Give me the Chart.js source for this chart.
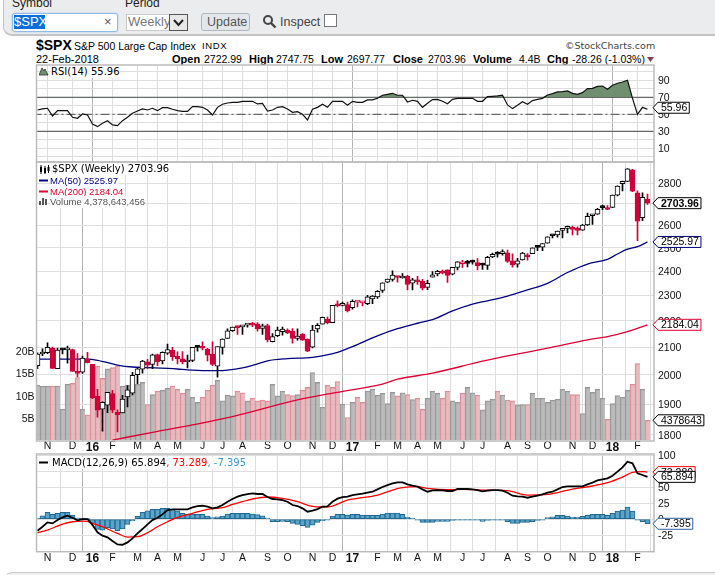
<!DOCTYPE html>
<html>
<head>
<meta charset="utf-8">
<title>$SPX</title>
<script src="https://cdn.jsdelivr.net/npm/chart.js@4"></script>
<style>
  html, body { margin: 0; padding: 0; background: #fff; overflow: hidden; }
  body { width: 715px; height: 575px; position: relative; font-family: "Liberation Sans", Arial, sans-serif; color: #000; }
  canvas { position: absolute; left: 0; }
  .t { position: absolute; white-space: nowrap; line-height: 12px; }
  .b { font-weight: bold; }
  .leg { font-family: "DejaVu Sans", sans-serif; font-size: 10px; background: #fff; }
  .ma { font-size: 9.5px; background: #fff; }
  #bar { position: absolute; left: 3px; right: -10px; top: -10px; height: 44px; background: #ebecee; border: 1px solid #c4c4c4; border-width: 0 0 2px 1px; border-radius: 0 0 0 9px; }
  #foot { position: absolute; left: 4px; right: -10px; top: 572px; height: 20px; background: #f0f0f2; border: 1px solid #c8c8c8; border-radius: 8px 0 0 0; }
  .box { position: absolute; background: #fff; box-sizing: border-box; }
</style>
</head>
<body>
<div id="bar"></div>
<div id="foot"></div>
<div class="t" style="left:12px;top:-3px;font-size:12px;color:#222">Symbol</div>
<div class="t" style="left:125px;top:-3px;font-size:12px;color:#222">Period</div>
<div class="box" style="left:12px;top:13px;width:106px;height:19px;border:1px solid #8fbbe8;border-radius:3px;box-shadow:0 0 2px #9cc4ee"></div>
<div class="t" style="left:14px;top:15px;font-size:13px;line-height:14px;background:#0a6fd6;color:#fff;width:31px">$SPX</div>
<div class="t" style="left:104px;top:15px;font-size:13px;line-height:14px;color:#555">×</div>
<div class="box" style="left:126px;top:14px;width:62px;height:17px;border:1px solid #ccc"></div>
<div class="t" style="left:128px;top:15px;font-size:13px;line-height:14px;color:#777">Weekly</div>
<div class="box" style="left:169px;top:14px;width:19px;height:17px;border:1px solid #555;background:#e8e8e8"></div>
<svg style="position:absolute;left:173px;top:19px" width="11" height="8"><path d="M1 1 L5.5 6 L10 1" fill="none" stroke="#222" stroke-width="2"/></svg>
<div class="box" style="left:201px;top:13px;width:49px;height:18px;border:1px solid #b0b6bd;border-radius:3px;background:#e2e7ec"></div>
<div class="t" style="left:207px;top:15px;font-size:12.5px;line-height:14px;color:#555">Update</div>
<svg style="position:absolute;left:262px;top:14px" width="15" height="15"><circle cx="6" cy="6" r="4" fill="none" stroke="#444" stroke-width="2"/><path d="M9 9 L13.5 13.5" stroke="#444" stroke-width="2.4"/></svg>
<div class="t" style="left:280px;top:15px;font-size:12.5px;line-height:14px;color:#444">Inspect</div>
<div class="box" style="left:324px;top:14px;width:13px;height:13px;border:1px solid #777"></div>

<div class="t b" style="left:36px;top:38px;font-size:14px;line-height:14px">$SPX</div>
<div class="t" style="left:74px;top:40px;font-size:10.5px">S&amp;P 500 Large Cap Index</div>
<div class="t" style="left:202px;top:40px;font-size:9.5px;letter-spacing:.6px">INDX</div>
<div class="t" style="left:565px;top:40px;font-family:'DejaVu Sans';font-size:9.5px;color:#444">©StockCharts.com</div>
<div class="t" style="left:36px;top:53px;font-size:11px">22-Feb-2018</div>
<div class="t b" style="left:172px;top:53px;font-size:11px">Open</div>
<div class="t" style="left:204px;top:53px;font-size:10.5px">2722.99</div>
<div class="t b" style="left:249px;top:53px;font-size:11px">High</div>
<div class="t" style="left:276px;top:53px;font-size:10.5px">2747.75</div>
<div class="t b" style="left:321px;top:53px;font-size:11px">Low</div>
<div class="t" style="left:347px;top:53px;font-size:10.5px">2697.77</div>
<div class="t b" style="left:393px;top:53px;font-size:11px">Close</div>
<div class="t" style="left:428px;top:53px;font-size:10.5px">2703.96</div>
<div class="t b" style="left:473px;top:53px;font-size:11px">Volume</div>
<div class="t" style="left:519px;top:53px;font-size:10.5px">4.4B</div>
<div class="t b" style="left:547px;top:53px;font-size:11px">Chg</div>
<div class="t" style="left:572px;top:53px;font-size:10.5px">-28.26 (-1.03%)</div>
<svg style="position:absolute;left:647px;top:57px" width="8" height="6"><path d="M0 0 H7 L3.5 5 Z" fill="#8c3b50"/></svg>

<canvas id="rsi" width="715" height="104" style="top:60px"></canvas>
<canvas id="price" width="715" height="300" style="top:160px"></canvas>
<canvas id="macd" width="715" height="118" style="top:450px"></canvas>

<svg style="position:absolute;left:39px;top:67px" width="10" height="9"><path d="M0 8 L3 1 L5 4 L6 2 L9 8 Z" fill="#6f8f6f" stroke="#333" stroke-width=".8"/></svg>
<div class="t leg" style="left:51px;top:66px">RSI(14) 55.96</div>
<svg style="position:absolute;left:39px;top:165px" width="11" height="9"><path d="M2 0 V9 M6 1 V9 M9.5 0 V8" stroke="#000"/><rect x="1" y="2" width="2" height="5"/><rect x="5" y="3" width="2" height="5"/><rect x="8.5" y="2" width="2" height="4"/></svg>
<div class="t leg" style="left:52px;top:163px">$SPX (Weekly) 2703.96</div>
<svg style="position:absolute;left:39px;top:176px" width="10" height="30"><path d="M0 4.5 H9" stroke="#00007f" stroke-width="2"/><path d="M0 15.5 H9" stroke="#dc0032" stroke-width="2"/><path d="M1 29 V25 M4 29 V22 M7 29 V23" stroke="#555" stroke-width="2"/></svg>
<div class="t ma" style="left:50px;top:175px;color:#00007f">MA(50) 2525.97</div>
<div class="t ma" style="left:50px;top:186px;color:#dc0032">MA(200) 2184.04</div>
<div class="t ma" style="left:50px;top:196px;color:#555">Volume 4,378,643,456</div>
<svg style="position:absolute;left:39px;top:460px" width="10" height="6"><path d="M0 2.5 H9" stroke="#000" stroke-width="2"/></svg>
<div class="t leg" style="left:52px;top:457px">MACD(12,26,9) 65.894<span style="color:#f00">, 73.289</span><span style="color:#3a97cf">, -7.395</span></div>

<script>
// week 0 = week of 19-Oct-2015, one candle per week up to 19-Feb-2018
const opens = [2033,2075,2080,2096,2022,2090,2090,2091,2013,2010,2057,2038,1926,1883,1897,1936,1873,1871,1924,1937,2001,2020,2047,2037,2073,2050,2078,2089,2067,2057,2046,2052,2100,2100,2092,2075,2031,2099,2132,2162,2173,2176,2183,2184,2187,2170,2181,2120,2143,2158,2164,2160,2132,2148,2129,2100,2168,2186,2206,2192,2258,2260,2263,2251,2273,2270,2267,2286,2294,2320,2354,2365,2375,2371,2378,2350,2363,2357,2332,2374,2388,2400,2405,2387,2415,2431,2434,2442,2436,2431,2424,2460,2473,2475,2478,2444,2429,2447,2470,2474,2502,2503,2521,2553,2557,2578,2587,2588,2582,2579,2603,2645,2652,2685,2680,2684,2742,2798,2809,2867,2754,2636,2722.99];
const highs = [2079,2094,2116,2100,2097,2094,2104,2093,2076,2067,2081,2038,1950,1908,1940,1947,1881,1930,1963,2009,2024,2052,2056,2075,2075,2083,2111,2099,2083,2084,2071,2099,2106,2120,2096,2120,2101,2131,2169,2175,2177,2182,2186,2194,2193,2187,2187,2151,2175,2175,2169,2170,2169,2151,2131,2182,2189,2214,2214,2260,2278,2273,2273,2282,2279,2276,2300,2299,2319,2351,2367,2401,2378,2390,2382,2370,2378,2366,2361,2398,2403,2404,2405,2416,2440,2446,2446,2447,2453,2434,2463,2477,2484,2491,2490,2474,2454,2480,2475,2500,2509,2519,2549,2555,2575,2582,2597,2597,2594,2605,2657,2652,2679,2695,2693,2743,2787,2811,2873,2870,2763,2754,2747.75];
const lows = [2022,2069,2076,2022,2022,2075,2042,2012,1993,2005,2043,1918,1857,1812,1872,1872,1810,1871,1891,1931,1970,2006,2022,2022,2033,2039,2073,2052,2039,2039,2025,2047,2085,2090,2050,2033,1992,2074,2132,2159,2147,2147,2175,2177,2160,2147,2119,2119,2139,2145,2150,2115,2126,2125,2083,2097,2156,2186,2187,2192,2254,2258,2234,2245,2254,2258,2263,2267,2288,2312,2352,2358,2354,2370,2322,2322,2344,2322,2323,2374,2380,2388,2353,2384,2405,2416,2418,2429,2405,2407,2407,2457,2459,2468,2437,2417,2417,2446,2446,2474,2488,2488,2521,2544,2547,2544,2566,2557,2557,2578,2600,2605,2651,2673,2673,2683,2738,2763,2808,2759,2532,2622,2697.77];
const closes = [2075,2079,2099,2023,2089,2090,2091,2012,2005,2060,2044,1922,1880,1906,1940,1880,1865,1917,1948,1999,2022,2049,2035,2072,2047,2081,2091,2065,2057,2046,2052,2099,2099,2096,2071,2037,2102,2130,2161,2175,2173,2182,2184,2183,2169,2180,2128,2139,2164,2168,2153,2132,2141,2126,2085,2164,2182,2213,2192,2260,2258,2263,2238,2276,2274,2271,2294,2297,2316,2351,2367,2383,2373,2378,2344,2363,2355,2329,2349,2384,2399,2391,2382,2416,2439,2432,2433,2438,2423,2425,2459,2472,2472,2476,2441,2426,2444,2477,2461,2500,2502,2519,2549,2553,2575,2581,2588,2582,2578,2602,2642,2652,2675,2683,2674,2743,2786,2810,2872,2762,2620,2732,2703.96];
// volume in billions
const volume = [12.2,12,12,12,12,6.9,12.4,12.6,13.9,6.9,5.6,16.4,16.4,13.7,15.8,16.1,16.5,12,12.2,13.7,12.4,12.8,7.9,10.1,10.9,11.1,11.5,12,11.3,10.4,11.3,9.5,8.4,9.5,11.1,12.2,13.3,8.7,10,9.8,10.9,10.5,8.7,9.3,8.7,8.9,8.7,12.4,9.8,10.9,10.1,9.9,10.1,11.1,11.7,15,12.8,7.3,12.2,11.7,13,8,5,8.4,9.5,8.4,10.9,11.3,10,10.4,8.1,10.6,9.8,10.5,10.1,9,9.3,6.8,9.3,10.9,10.4,9.3,10.9,8.7,8.4,10.4,11.7,10.5,10,6.7,8.7,9.1,10.9,10,8.9,8.7,7.8,7.9,7.9,10.4,9.3,9.3,8.4,8.9,9.1,11.3,10.9,10.1,10.1,5.9,11.7,10.6,11.3,9.3,4.6,8.1,9.9,9.5,11.1,12.4,17,11.3,4.38];
const pinkVolumeWeeks = [3,7,8,10,11,12,13,15,16,22,24,27,28,29,33,34,35,40,41,43,44,45,46,50,51,53,54,58,59,60,62,64,65,72,74,76,77,81,82,85,88,92,94,95,98,107,108,114,119,120,122];

const ma50Weeks = [0,10,12,16,19,22,28,30,36,38,41,44,46,50,55,60,63,68,72,76,79,83,87,90,94,98,102,106,110,114,116,118,120,122];
const ma50 = [2056,2056,2052,2035,2028,2026,2021,2018,2015,2017,2025,2039,2050,2058,2063,2081,2102,2142,2169,2190,2204,2238,2265,2278,2297,2322,2349,2394,2430,2450,2473,2494,2505,2525.97];
const ma200Weeks = [15,23,31,39,52,60,69,72,79,89,94,102,110,114,118,122];
const ma200 = [1784,1808,1832,1859,1914,1940,1968,1985,2006,2049,2068,2096,2127,2139,2158,2184.04];

const rsi = [55.1,56.3,57.1,48,54.3,54.3,54.3,46.5,45.3,50.4,49.2,38.6,35.5,39.4,42.5,37.5,36.7,42.5,46.5,51.2,53.9,56.3,55.1,57.1,54.3,57.8,57.8,55.9,54.3,53.5,53.5,59,59,58.2,55.1,49.2,58.2,61.8,63.3,64.1,64.1,65.3,65.3,65.3,62.2,62.9,53.9,55.1,58.2,59,56.3,52.4,53.1,50,43.3,55.9,58.2,61.8,58.2,65.3,65.3,65.3,60.6,65.3,64.1,64.1,66.9,66.9,68.8,72.4,73.5,74.7,72.4,72.4,64.5,66.5,65.3,58.2,62.9,67.3,67.6,65.3,62.5,67.6,68.8,68.8,68.8,68.8,65.3,65.3,70.8,71.2,71.6,72.4,61,56.7,60.6,64.9,61.8,66.1,67.6,68.8,72.7,74.3,76.3,76.7,77.5,74.7,73.5,75.5,80.2,80.6,82.9,83.3,79.4,84.1,86.5,88,90,68.8,50,58.2,55.96];
const rsiLevels = [70,30];

const macd = [-18.2,-12,-5.2,-6.8,-1.6,2.6,5.2,2.1,-2.1,0,0,-9.4,-20.8,-26,-28.6,-34.4,-39.6,-40.1,-36.5,-30.2,-22.4,-15.6,-8.3,-1.6,2.1,7.3,14.1,15.1,15.1,15.1,15.1,18.2,20.3,20.8,19.3,16.7,18.2,21.9,27.1,31.3,34.9,37.5,39.1,40.1,39.1,39.1,34.4,31.3,30.7,29.7,27.1,21.9,20.3,16.7,11.5,13,15.6,19.3,19.8,27.1,31.8,34.4,34.9,37.5,38.5,39.6,41.1,42.7,46.4,50,53.1,55.7,57.3,57.3,54.2,52.1,50.5,46.4,42.7,44.8,45.3,44.8,43.8,43.8,46.9,46.9,46.9,46.4,45.3,43.2,44.3,45.3,45.3,44.3,41.1,36.5,35.4,34.9,33.3,34.9,36.5,38.5,41.1,42.7,46.4,50,51,51,51,51,54.2,56.8,60.4,62,63.5,67.7,74,80.7,89.6,87,71.4,68.8,65.894];
const signalWeeks = [0,2,4,5,7,9,10,11,13,16,18,20,22,24,26,28,31,34,37,39,41,43,46,49,52,55,57,59,62,64,68,71,73,76,78,82,85,89,94,98,102,107,111,114,117,119,121,122];
const signal = [-21.4,-17.2,-10.9,-7.8,-4.2,-3.1,-3.6,-6.8,-12,-22.4,-28.1,-27.6,-21.4,-12,-4.2,2.6,8.9,15.1,17.7,22.9,27.1,31.3,34.4,32.3,27.1,19.8,18.8,20.3,29.7,32.3,37.5,45.3,49,50.5,47.9,45.8,46.4,45.3,44.3,37.5,38.5,46.9,51.6,56.8,65.6,72.9,74,73.289];
const histogram = [1,5.2,10.4,7.3,8.9,10.4,10.4,6.3,1,.5,0,-6.8,-16.1,-17.2,-13.5,-15.6,-18.2,-15.6,-8.3,-3.1,4.2,10.4,13,15.1,15.1,16.7,16.7,15.1,13,8.9,7.8,7.8,7.3,7.3,4.7,2.1,3.6,4.7,7.8,8.9,8.9,8.9,8.9,7.8,6.8,5.2,1,-4.2,-4.2,-3.6,-4.2,-6.8,-8.3,-10.4,-13,-9.4,-5.2,-2.6,-1,4.7,7.3,7.3,6.3,7.3,7.3,6.3,5.7,5.7,5.7,7.8,9.4,9.4,9.4,7.3,3.1,1,-1,-5.2,-5.2,-5.2,-3.6,-3.6,-3.6,-2.1,-.5,-.5,-.5,-.5,-1.6,-3.6,-2.1,-.5,-.5,-.5,-4.2,-6.8,-6.8,-5.2,-5.2,-4.2,-2.1,-.5,2.1,3.6,5.7,5.7,4.7,3.1,3.1,4.2,5.7,7.3,7.3,7.3,5.7,8.9,12.5,14.1,18.8,12.5,-1.6,-4.2,-7.395];

const monthWeeks = [2,7,11,15,20,24,28,33,37,41,46,50,55,59,63,68,72,76,80,85,89,94,98,102,107,111,115,120];
const monthLabels = ['N','D','16','F','M','A','M','J','J','A','S','O','N','D','17','F','M','A','M','J','J','A','S','O','N','D','18','F'];

const priceTicks = [1800,1900,2000,2100,2200,2300,2400,2500,2600,2700,2800];
const volumeTicks = [5,10,15,20];
const rsiTicks = [0,10,20,30,40,50,60,70,80,90,100];
const rsiLabels = [10,30,50,70,90];
const macdTicks = [-25,0,25,50,75,100];

const GRID = '#dedede';
const YEAR_GRID = '#b4b4b4';
const TICK_FONT = { family: 'Liberation Sans', size: 10.5 };

const xyPoints = (xs, ys) => ys.map((y, i) => ({ x: xs[i], y }));
const weekly = ys => ys.map((y, i) => ({ x: i, y }));
const isYear = v => monthLabels[monthWeeks.indexOf(v)].length === 2;

// fixes the size of an axis and stops it pushing the plot area around
function fixSize(s, width, height) {
  if (width !== undefined) s.width = width;
  if (height !== undefined) s.height = height;
  s.paddingTop = s.paddingBottom = s.paddingLeft = s.paddingRight = 0;
}

function xAxis(labelHeight, labelPadding) {
  return {
    type: 'linear',
    min: -0.2,
    max: 123.3,
    offset: false,
    afterBuildTicks: s => { s.ticks = monthWeeks.map(value => ({ value })); },
    afterFit: s => fixSize(s, undefined, labelHeight),
    border: { display: false },
    grid: {
      drawTicks: false,
      color: c => (c.tick && isYear(c.tick.value) ? YEAR_GRID : GRID),
    },
    ticks: {
      display: labelHeight > 0,
      autoSkip: false,
      maxRotation: 0,
      padding: labelPadding,
      color: '#111',
      font: c => (c.tick && isYear(c.tick.value)
        ? { family: 'Liberation Sans', size: 12, weight: 'bold' }
        : TICK_FONT),
      callback: v => monthLabels[monthWeeks.indexOf(v)],
    },
  };
}

function rightAxis(ticksList, labelFor, extra) {
  return Object.assign({
    position: 'right',
    afterFit: s => fixSize(s, 61),
    afterBuildTicks: s => { s.ticks = ticksList.map(value => ({ value })); },
    border: { display: false },
    grid: { drawTicks: false, color: GRID },
    ticks: { autoSkip: false, padding: 4, labelOffset: 1, color: '#111', font: TICK_FONT, callback: labelFor },
  }, extra);
}

// spacer on the left so the three panels line up
const emptyLeftAxis = {
  position: 'left',
  min: 0,
  max: 1,
  afterFit: s => fixSize(s, 36.5),
  grid: { display: false },
  border: { display: false },
  ticks: { display: false },
};

// frame around the panel and the value flags on the right edge
function panelExtras(flags) {
  return {
    id: 'panelExtras',
    afterDraw(chart) {
      const { ctx, chartArea: a } = chart;
      ctx.save();
      ctx.strokeStyle = '#bcbcbc';
      ctx.lineWidth = 1.5;
      ctx.strokeRect(a.left, a.top, a.right - a.left, a.bottom - a.top);
      flags.forEach(f => {
        const y = chart.scales[f.scale].getPixelForValue(f.value) + (f.shift || 0);
        ctx.font = (f.bold ? 'bold ' : '') + '10.5px "Liberation Sans"';
        const w = ctx.measureText(f.text).width + 4;
        const x0 = a.right - 1;
        ctx.beginPath();
        ctx.moveTo(x0, y);
        ctx.lineTo(x0 + 5, y - 5.5);
        ctx.lineTo(x0 + 6 + w, y - 5.5);
        ctx.lineTo(x0 + 6 + w, y + 5.5);
        ctx.lineTo(x0 + 5, y + 5.5);
        ctx.closePath();
        ctx.fillStyle = '#fff';
        ctx.fill();
        ctx.strokeStyle = f.color;
        ctx.lineWidth = 1;
        ctx.stroke();
        ctx.fillStyle = '#000';
        ctx.textAlign = 'left';
        ctx.textBaseline = 'middle';
        ctx.fillText(f.text, x0 + 8, y + 0.5);
      });
      ctx.restore();
    },
  };
}

const baseOptions = {
  responsive: false,
  animation: false,
  devicePixelRatio: 1,
  events: [],
};
const noChrome = { legend: { display: false }, tooltip: { enabled: false } };

// RSI panel
new Chart(document.getElementById('rsi'), {
  type: 'line',
  plugins: [panelExtras([{ scale: 'y', value: 55.96, text: '55.96', color: '#000', shift: -1.5 }])],
  data: {
    datasets: [
      {
        yAxisID: 'y',
        data: weekly(rsi),
        borderColor: '#111',
        borderWidth: 1.2,
        pointRadius: 0,
        fill: { value: 70, above: '#6f8f6f', below: 'rgba(0,0,0,0)' },
      },
      ...rsiLevels.map(level => ({
        yAxisID: 'y',
        data: [{ x: -1, y: level }, { x: 124, y: level }],
        borderColor: '#666',
        borderWidth: 1.2,
        pointRadius: 0,
      })),
      {
        yAxisID: 'y',
        data: [{ x: -1, y: 50 }, { x: 124, y: 50 }],
        borderColor: '#666',
        borderWidth: 1.2,
        borderDash: [9, 3, 2, 3],
        pointRadius: 0,
      },
    ],
  },
  options: {
    ...baseOptions,
    layout: { padding: { top: 5, bottom: 2 } },
    plugins: noChrome,
    scales: {
      x: xAxis(0, 0),
      yLeft: emptyLeftAxis,
      y: rightAxis(rsiTicks, v => (rsiLabels.includes(v) ? String(v) : ''), { min: -6.1, max: 108 }),
    },
  },
});

// price + volume panel
const hollow = closes.map((c, i) => c > opens[i]);
const candleColor = closes.map((c, i) => (i > 0 && c < closes[i - 1] ? '#d0003a' : '#000'));

new Chart(document.getElementById('price'), {
  type: 'bar',
  plugins: [panelExtras([
    { scale: 'y', value: 2703.96, text: '2703.96', color: '#000', bold: true },
    { scale: 'y', value: 2525.97, text: '2525.97', color: '#00007f' },
    { scale: 'y', value: 2184.04, text: '2184.04', color: '#dc0032' },
    { scale: 'vol', value: 4.38, text: '4378643', color: '#000' },
  ])],
  data: {
    datasets: [
      {
        label: 'Volume',
        order: 5,
        yAxisID: 'vol',
        data: weekly(volume),
        barThickness: 5,
        grouped: false,
        backgroundColor: volume.map((v, i) => (pinkVolumeWeeks.includes(i) ? 'rgba(226,170,176,.8)' : 'rgba(170,170,170,.8)')),
        borderColor: volume.map((v, i) => (pinkVolumeWeeks.includes(i) ? '#dc8c94' : '#979797')),
        borderWidth: { top: 1, left: 1, right: 0, bottom: 0 },
      },
      {
        type: 'line',
        label: 'MA(200)',
        order: 4,
        yAxisID: 'y',
        data: xyPoints(ma200Weeks, ma200),
        borderColor: '#dc0032',
        borderWidth: 1.3,
        pointRadius: 0,
        cubicInterpolationMode: 'monotone',
      },
      {
        type: 'line',
        label: 'MA(50)',
        order: 3,
        yAxisID: 'y',
        data: xyPoints(ma50Weeks, ma50),
        borderColor: '#00007f',
        borderWidth: 1.3,
        pointRadius: 0,
        cubicInterpolationMode: 'monotone',
      },
      {
        label: 'wick',
        order: 2,
        yAxisID: 'y',
        data: closes.map((c, i) => ({ x: i, y: [lows[i], highs[i]] })),
        barThickness: 1,
        grouped: false,
        backgroundColor: candleColor,
        borderWidth: 0,
      },
      {
        label: 'body',
        order: 1,
        yAxisID: 'y',
        data: closes.map((c, i) => ({ x: i, y: [opens[i], c] })),
        barThickness: 5,
        grouped: false,
        minBarLength: 2,
        backgroundColor: hollow.map((h, i) => (h ? '#fff' : candleColor[i])),
        borderColor: candleColor,
        borderWidth: 1,
        borderSkipped: false,
      },
    ],
  },
  options: {
    ...baseOptions,
    layout: { padding: { top: 2 } },
    plugins: noChrome,
    scales: {
      x: xAxis(19, -1),
      vol: {
        position: 'left',
        min: -0.22,
        max: 61.8,
        afterFit: s => fixSize(s, 36.5),
        afterBuildTicks: s => { s.ticks = volumeTicks.map(value => ({ value })); },
        border: { display: false },
        grid: { display: false, drawTicks: false },
        ticks: { autoSkip: false, padding: 2, labelOffset: 2, color: '#111', font: TICK_FONT, callback: v => v + 'B' },
      },
      y: rightAxis(priceTicks, v => String(v), { type: 'logarithmic', bounds: 'data', min: 1781, max: 2906.6 }),
    },
  },
});

// MACD panel
new Chart(document.getElementById('macd'), {
  type: 'bar',
  plugins: [panelExtras([
    { scale: 'y', value: 73.289, text: '73.289', color: '#f00' },
    { scale: 'y', value: 65.894, text: '65.894', color: '#000' },
    { scale: 'y', value: -7.395, text: '-7.395', color: '#2f5f9f' },
  ])],
  data: {
    datasets: [
      {
        label: 'Histogram',
        order: 3,
        yAxisID: 'y',
        data: weekly(histogram),
        barThickness: 5,
        grouped: false,
        minBarLength: 1,
        backgroundColor: '#5ba3c9',
        borderColor: '#20688f',
        borderWidth: 1,
        borderSkipped: false,
      },
      {
        type: 'line',
        label: 'Signal',
        order: 2,
        yAxisID: 'y',
        data: xyPoints(signalWeeks, signal),
        borderColor: '#f00',
        borderWidth: 1.3,
        pointRadius: 0,
        cubicInterpolationMode: 'monotone',
      },
      {
        type: 'line',
        label: 'MACD',
        order: 1,
        yAxisID: 'y',
        data: weekly(macd),
        borderColor: '#000',
        borderWidth: 1.8,
        pointRadius: 0,
      },
    ],
  },
  options: {
    ...baseOptions,
    layout: { padding: { top: 4 } },
    plugins: noChrome,
    scales: {
      x: xAxis(16.3, 0),
      yLeft: emptyLeftAxis,
      y: rightAxis(macdTicks, v => String(v), { min: -51, max: 101.6 }),
    },
  },
});
</script>
</body>
</html>
